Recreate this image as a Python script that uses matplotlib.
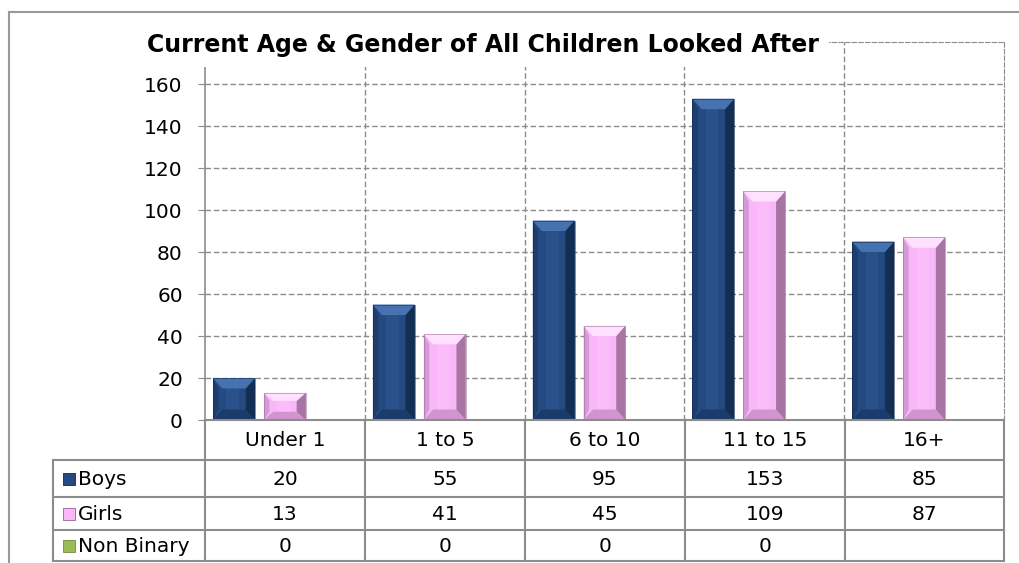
import numpy as np
import matplotlib.pyplot as plt
from matplotlib.patches import Polygon, Rectangle

# data
categories = ['Under 1', '1 to 5', '6 to 10', '11 to 15', '16+']
series = ['Boys', 'Girls', 'Non Binary']
boys = [20, 55, 95, 153, 85]
girls = [13, 41, 45, 109, 87]
non_binary = [0, 0, 0, 0, None]

# colours: base, light top, dark edge
shades = {
    'Boys': ('#244a81', '#4672b0', '#0f2748'),
    'Girls': ('#f9b6f9', '#ffe0ff', '#94648f'),
    'Non Binary': ('#9bbb59', '#b8d288', '#6f8c3a'),
}

W, H = 1020, 563
fig = plt.figure(figsize=(W / 100, H / 100), dpi=100)
fig.patch.set_facecolor('white')


def box(x0, y0, x1, y1):
    # pixel box (top-left origin) -> figure fraction rect
    return [x0 / W, 1 - y1 / H, (x1 - x0) / W, (y1 - y0) / H]


ax = fig.add_axes(box(205, 42, 1004, 420))
ax.set_xlim(0, 5)
ax.set_ylim(0, 180)
grid_c = '#8c8c8c'
for s in ['top', 'right']:
    ax.spines[s].set_linestyle((0, (4, 2)))
    ax.spines[s].set_color(grid_c)
for s in ['left', 'bottom']:
    ax.spines[s].set_color(grid_c)
    ax.spines[s].set_linewidth(1.2)
ax.set_yticks(np.arange(0, 161, 20))
ax.set_xticks([])
ax.tick_params(axis='y', length=5, color=grid_c, pad=11, labelsize=14.5)
for v in range(20, 161, 20):
    ax.axhline(v, color=grid_c, lw=1, ls=(0, (4, 2)), zorder=1)
for i in range(1, 5):
    ax.axvline(i, color=grid_c, lw=1, ls=(0, (4, 2)), zorder=1)


def bevel_bar(ax, xc, h, width, cols):
    base, light, dark = cols
    x0, x1 = xc - width / 2, xc + width / 2
    dx = width * 0.22
    dy = min(5, h * 0.3)
    ax.add_patch(Rectangle((x0, 0), width, h, facecolor=base, edgecolor='none', zorder=3))
    # soft highlight down the middle of the face
    ax.add_patch(Rectangle((xc - width * 0.18, dy), width * 0.3, h - 2 * dy,
                           facecolor=light, alpha=0.18, edgecolor='none', zorder=3))
    ax.add_patch(Polygon([(x0, 0), (x0 + dx * 0.6, dy), (x0 + dx * 0.6, h - dy), (x0, h)],
                         facecolor=dark, alpha=0.35, edgecolor='none', zorder=4))
    ax.add_patch(Polygon([(x1, 0), (x1 - dx, dy), (x1 - dx, h - dy), (x1, h)],
                         facecolor=dark, alpha=0.8, edgecolor='none', zorder=4))
    ax.add_patch(Polygon([(x0, h), (x1, h), (x1 - dx, h - dy), (x0 + dx, h - dy)],
                         facecolor=light, edgecolor='none', zorder=5))
    ax.add_patch(Polygon([(x0, 0), (x1, 0), (x1 - dx, dy), (x0 + dx, dy)],
                         facecolor=dark, alpha=0.4, edgecolor='none', zorder=5))
    ax.add_patch(Rectangle((x0, 0), width, h, facecolor='none', edgecolor=dark,
                           lw=0.6, alpha=0.6, zorder=6))


bar_w = 42 / 160
offsets = [-51 / 160, 0, 51 / 160]
for name, vals, off in zip(series, [boys, girls, non_binary], offsets):
    for i, v in enumerate(vals):
        if v:
            bevel_bar(ax, i + 0.5 + off, v, bar_w, shades[name])

# data table under the plot
tb = fig.add_axes([0, 0, 1, 1], facecolor='none')
tb.set_xlim(0, W)
tb.set_ylim(H, 0)
tb.axis('off')
col_x = [53, 205, 365, 525, 685, 845, 1004]
row_y = [420, 460, 497, 530, 561]
tc = '#8c8c8c'
lw = 1.5
tb.plot([205, 1004], [row_y[0], row_y[0]], color=tc, lw=lw)
for y in row_y[1:]:
    tb.plot([53, 1004], [y, y], color=tc, lw=lw)
tb.plot([53, 53], [row_y[1], row_y[-1]], color=tc, lw=lw)
for x in col_x[1:]:
    tb.plot([x, x], [row_y[0], row_y[-1]], color=tc, lw=lw)

fs = 14.5
for j, c in enumerate(categories):
    tb.text((col_x[j + 1] + col_x[j + 2]) / 2, (row_y[0] + row_y[1]) / 2 + 1, c,
            ha='center', va='center', fontsize=fs)
for r, (name, vals) in enumerate(zip(series, [boys, girls, non_binary])):
    yc = (row_y[r + 1] + row_y[r + 2]) / 2
    base, light, dark = shades[name]
    tb.add_patch(Rectangle((63, yc - 6), 12, 12, facecolor=base, edgecolor=dark, lw=0.6))
    tb.text(78, yc + 1, name, ha='left', va='center', fontsize=fs)
    for j, v in enumerate(vals):
        if v is not None:
            tb.text((col_x[j + 1] + col_x[j + 2]) / 2, yc + 1, str(v),
                    ha='center', va='center', fontsize=fs)

# outer chart frame
tb.plot([9, W], [12, 12], color='#9a9a9a', lw=1.5)
tb.plot([9, 9], [12, H], color='#9a9a9a', lw=1.5)

fig.text(483 / W, 1 - 45 / H, 'Current Age & Gender of All Children Looked After',
         ha='center', va='center', fontsize=17, fontweight='bold',
         bbox=dict(facecolor='white', edgecolor='none', pad=7), zorder=10)

fig.savefig('out.png', dpi=100)
